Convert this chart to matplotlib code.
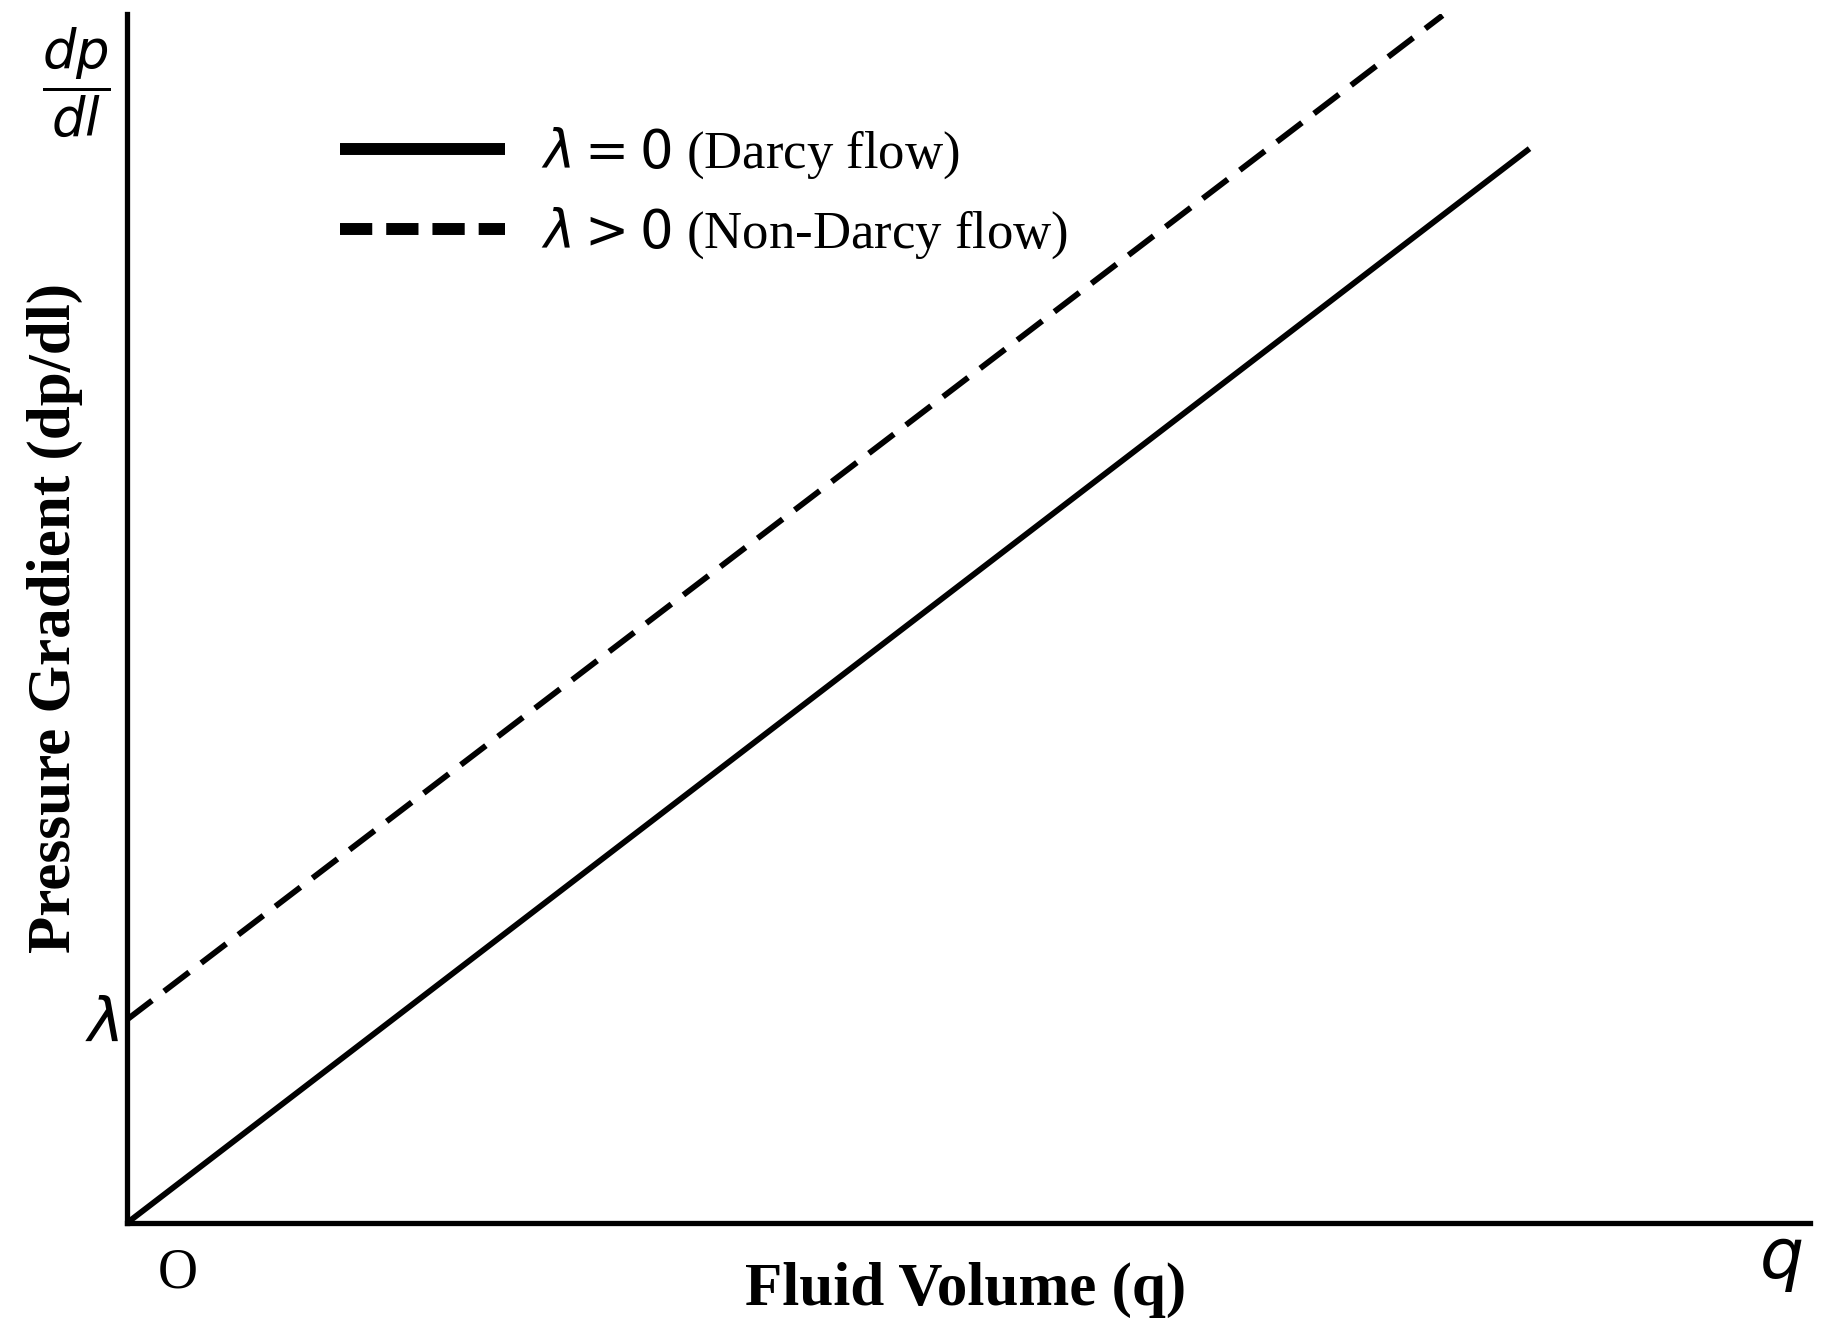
import numpy as np
import matplotlib
matplotlib.use("Agg")
import matplotlib.pyplot as plt
from matplotlib.lines import Line2D

plt.rcParams['mathtext.fontset'] = 'dejavusans'

# data (arbitrary units)
q_darcy = [0.0, 10.0]
dp_darcy = [0.0, 7.66]
q_nondarcy = [0.0, 9.38]
dp_nondarcy = [1.45, 8.61]
lam = 1.45
x_max, y_max = 12.0, 8.62

labels = [r'$\lambda = 0$ (Darcy flow)', r'$\lambda > 0$ (Non-Darcy flow)']

W, H = 1821, 1335
fig = plt.figure(figsize=(W / 100, H / 100), dpi=100)
ax = fig.add_axes([127 / W, (H - 1223) / H, 1683 / W, 1209 / H])

lw = 4.2
ax.plot(q_darcy, dp_darcy, color='black', lw=lw, solid_capstyle='butt')
ax.plot(q_nondarcy, dp_nondarcy, color='black', lw=lw, dashes=(5.4, 2.6))

ax.set_xlim(0, x_max)
ax.set_ylim(0, y_max)
for s in ['top', 'right']:
    ax.spines[s].set_visible(False)
for s in ['left', 'bottom']:
    ax.spines[s].set_linewidth(3.8)
ax.set_xticks([])
ax.set_yticks([])

# legend
leg_lw = 8.6
handles = [Line2D([], [], color='black', lw=leg_lw, solid_capstyle='butt'),
           Line2D([], [], color='black', lw=leg_lw, dashes=(2.7, 1.17))]
leg = ax.legend(handles, labels, loc='upper left', bbox_to_anchor=(0.111, 0.930),
                frameon=False, handlelength=3.13, handletextpad=0.68,
                labelspacing=0.47, borderpad=0,
                prop={'family': 'Liberation Serif', 'size': 38})

# axis labels
serif = 'Liberation Serif'
fig.text(55 / W, 1 - 618 / H, 'Pressure Gradient (dp/dl)', rotation=90,
         ha='center', va='center', family=serif, weight='bold', fontsize=44)
fig.text(966 / W, 1 - 1290 / H, 'Fluid Volume (q)', ha='center', va='center',
         family=serif, weight='bold', fontsize=44)
fig.text(178 / W, 1 - 1273 / H, 'O', ha='center', va='center',
         family=serif, fontsize=40)

# symbols
fig.text(102 / W, 1 - 1024 / H, r'$\lambda$', ha='center', va='center',
         fontsize=44)
fig.text(1781 / W, 1 - 1261 / H, r'$q$', ha='center', va='center', fontsize=50)
fig.text(76 / W, 1 - 82 / H, r'$\dfrac{dp}{dl}$', ha='center', va='center',
         fontsize=38)

fig.savefig('out.png', dpi=100)
